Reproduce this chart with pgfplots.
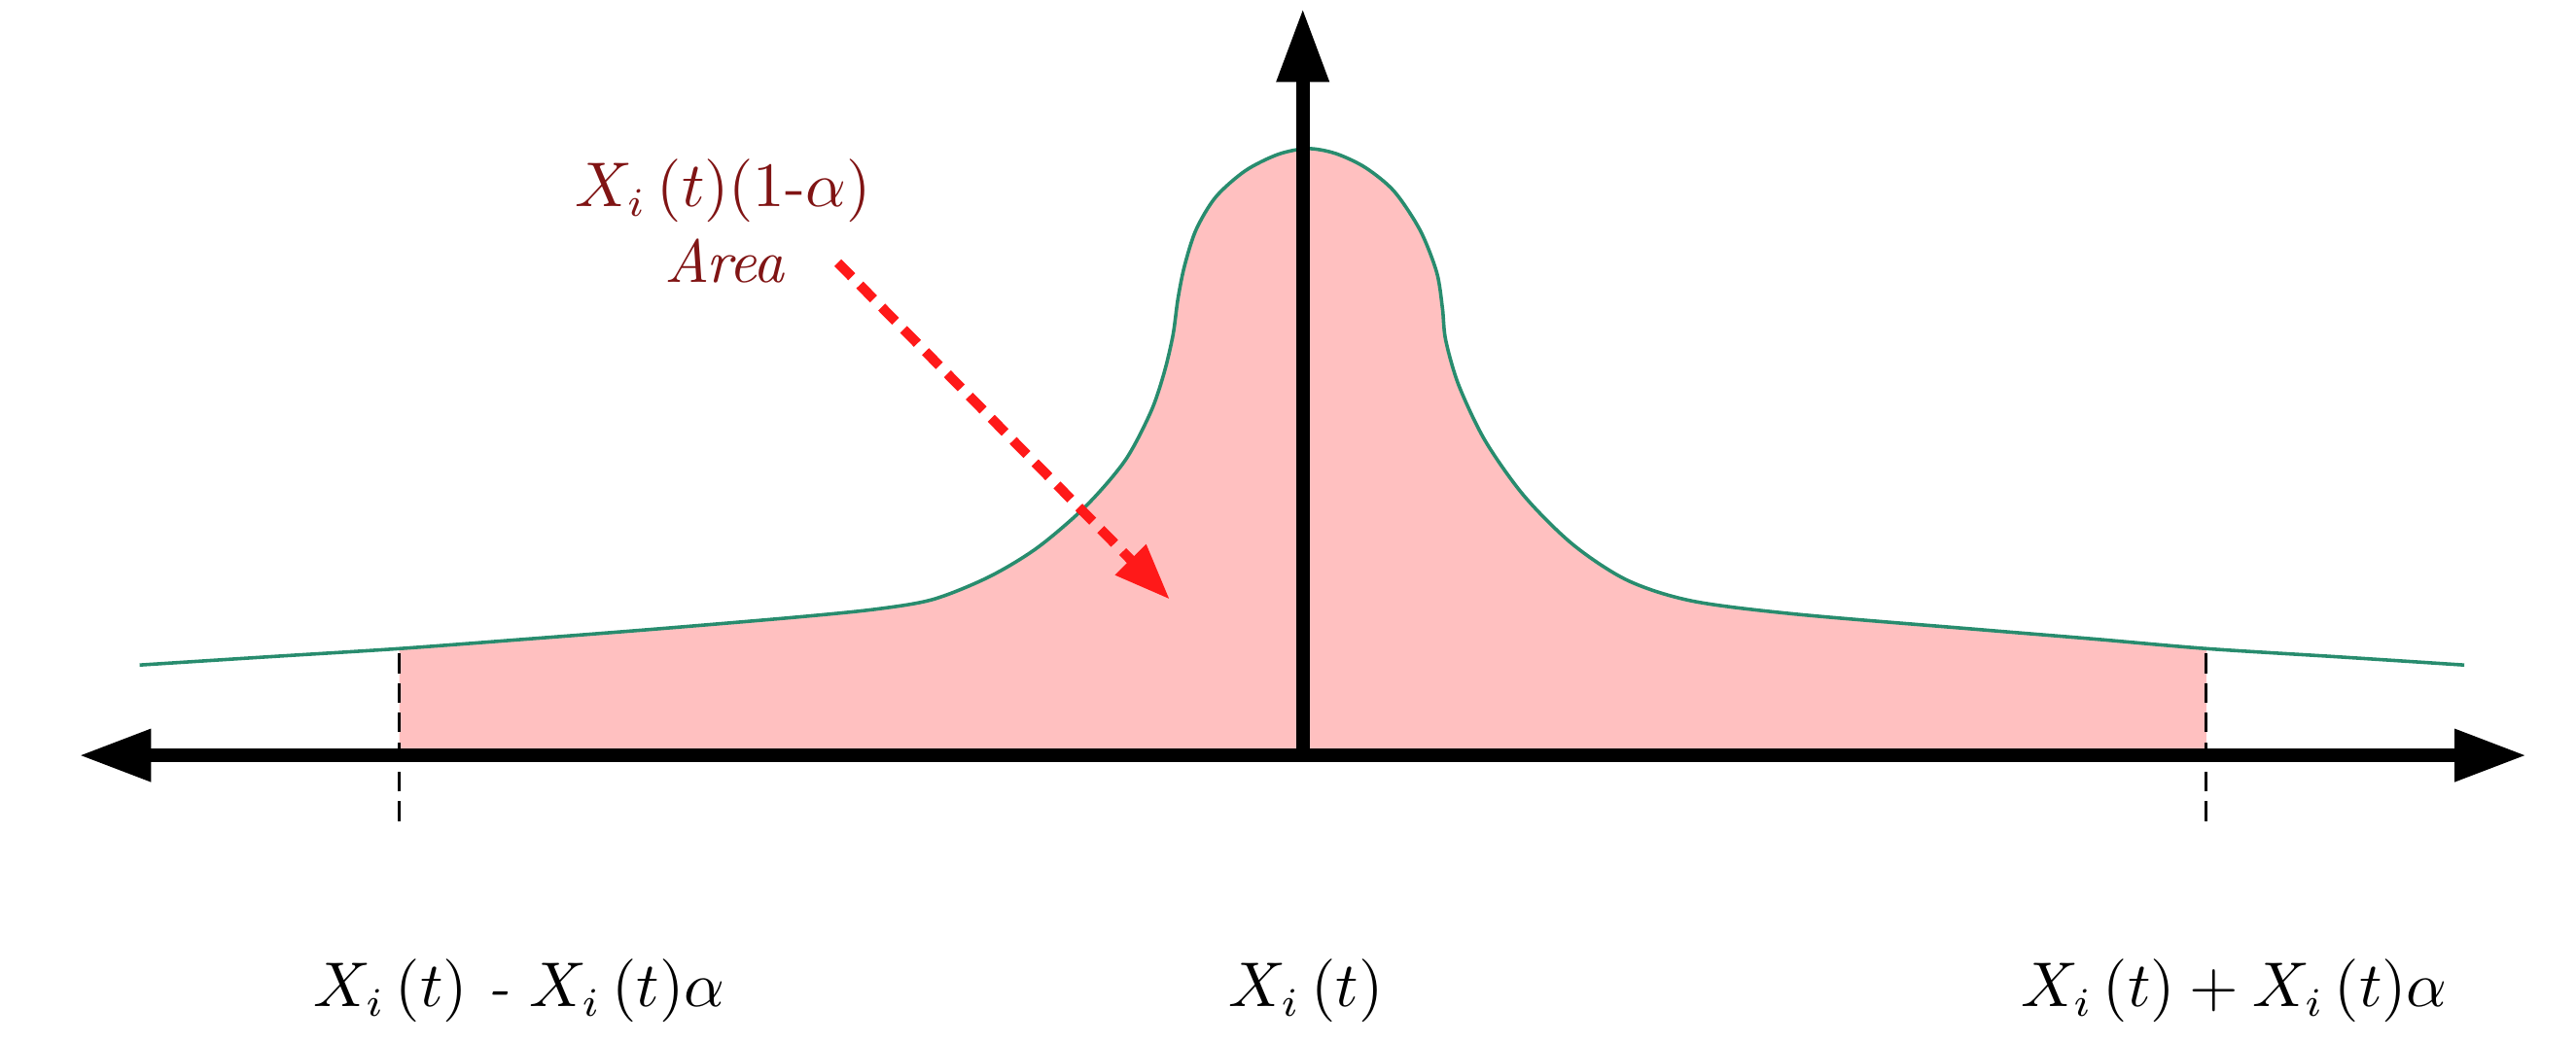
\documentclass[border=0pt]{standalone}
\usepackage{pgfplots}
\pgfplotsset{compat=1.18}
\usetikzlibrary{arrows.meta}
\definecolor{fillpink}{RGB}{255,192,192}
\definecolor{curvegreen}{RGB}{40,140,110}
\definecolor{annot}{RGB}{128,20,20}
\definecolor{arrred}{RGB}{255,25,25}
\pgfplotstableread{
x y
-550 65
-470 71
-393 77
-310 84
-260 89
-225 95
-191 108.7
-161.5 126.5
-131.8 152
-108 179.8
-92.4 209.4
-84.4 233
-79 256
-76 278
-72 298
-65 320
-53 340
-35 356
-15 366
3 369.5
20 366.5
38 358
55.6 343.5
71.4 319.8
81.5 294.2
85 272.4
87 252.8
95 225.2
111 191.6
134.7 158
164.4 128.4
197.6 106.6
237 94
300 86
407 77
480 71
550 65
}\areadata
\pgfplotstableread{
x y
-708 55
-630 60
-550 65
-470 71
-393 77
-310 84
-260 89
-225 95
-191 108.7
-161.5 126.5
-131.8 152
-108 179.8
-92.4 209.4
-84.4 233
-79 256
-76 278
-72 298
-65 320
-53 340
-35 356
-15 366
3 369.5
20 366.5
38 358
55.6 343.5
71.4 319.8
81.5 294.2
85 272.4
87 252.8
95 225.2
111 191.6
134.7 158
164.4 128.4
197.6 106.6
237 94
300 86
407 77
480 71
550 65
630 60
707 55
}\curvedata
\begin{document}
\begin{tikzpicture}
\begin{axis}[
  scale only axis, width=156.8mm, height=63.2mm,
  xmin=-793, xmax=775, ymin=-172, ymax=460,
  hide axis, clip=false,
]
\path (rel axis cs:0,0) rectangle (rel axis cs:1,1);
% shaded area
\addplot[fill=fillpink, draw=none, smooth, tension=0.5] table[x=x,y=y] {\areadata} \closedcycle;
% curve
\addplot[curvegreen, line width=0.6pt, smooth, tension=0.5] table[x=x,y=y] {\curvedata};
% dashed bounds
\addplot[black, line width=0.5pt, dash pattern=on 1.2mm off 0.6mm] coordinates {(-550,-40) (-550,65)};
\addplot[black, line width=0.5pt, dash pattern=on 1.2mm off 0.6mm] coordinates {(550,-40) (550,65)};
% axes
\addplot[black, line width=2.4pt, {Triangle[length=4.4mm,width=3mm]}-{Triangle[length=4.4mm,width=3mm]}] coordinates {(-745,0) (745,0)};
\addplot[black, line width=2.4pt, -{Triangle[length=4.5mm,width=3mm]}] coordinates {(0,0) (0,455)};
% annotation arrow
\addplot[arrred, line width=1.7pt, dash pattern=on 1.2mm off 0.7mm, -{Triangle[length=3.4mm,width=2.5mm]}] coordinates {(-283,300) (-81,95)};
% labels
\node[anchor=base, text=annot, font=\fontsize{10.5}{12}\selectfont] at (axis cs:-353,334) {$X_i\,(t)(1\mbox{-}\alpha)$};
\node[anchor=base, text=annot, font=\fontsize{10.5}{12}\selectfont\itshape] at (axis cs:-352,288) {Area};
\node[anchor=base, font=\fontsize{10.5}{12}\selectfont] at (axis cs:-477,-153) {$X_i\,(t)$ \textit{-} $X_i\,(t)\alpha$};
\node[anchor=base, font=\fontsize{10.5}{12}\selectfont] at (axis cs:2,-153) {$X_i\,(t)$};
\node[anchor=base, font=\fontsize{10.5}{12}\selectfont] at (axis cs:567,-153) {$X_i\,(t) + X_i\,(t)\alpha$};
\end{axis}
\end{tikzpicture}
\end{document}
